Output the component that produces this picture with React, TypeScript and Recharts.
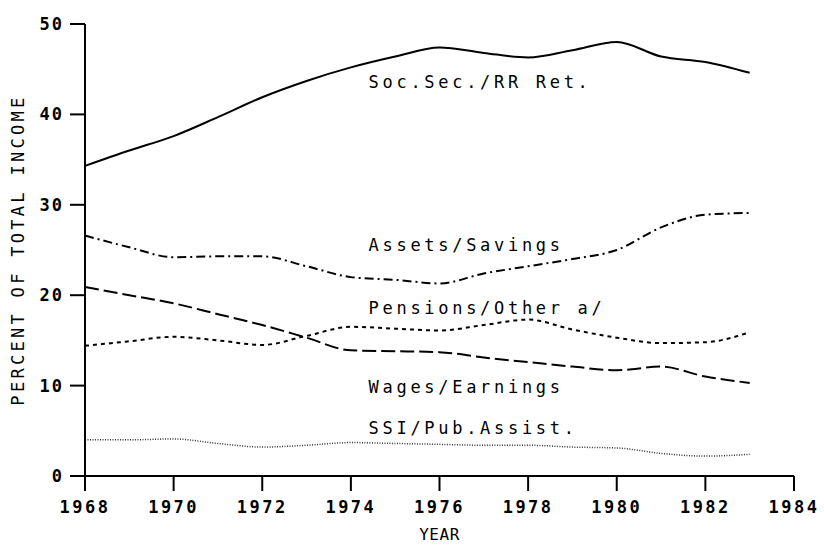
import { LineChart, Line, XAxis, YAxis, ReferenceDot } from 'recharts'

const years = [1968, 1969, 1970, 1971, 1972, 1973, 1974, 1975, 1976, 1977, 1978, 1979, 1980, 1981, 1982, 1983]
const socSec = [34.3, 36.0, 37.6, 39.7, 41.9, 43.7, 45.2, 46.4, 47.4, 46.8, 46.3, 47.1, 48.0, 46.4, 45.8, 44.6]
const assets = [26.6, 25.3, 24.2, 24.3, 24.3, 23.2, 22.0, 21.7, 21.3, 22.4, 23.2, 24.0, 25.0, 27.5, 28.9, 29.1]
const pensions = [14.4, 14.9, 15.4, 15.0, 14.5, 15.5, 16.5, 16.3, 16.1, 16.7, 17.3, 16.2, 15.3, 14.7, 14.8, 15.9]
const wages = [20.9, 20.0, 19.1, 17.9, 16.7, 15.3, 13.9, 13.8, 13.7, 13.1, 12.6, 12.1, 11.7, 12.1, 11.0, 10.3]
const ssi = [4.0, 4.0, 4.1, 3.6, 3.2, 3.4, 3.7, 3.6, 3.5, 3.4, 3.4, 3.2, 3.1, 2.5, 2.2, 2.4]

const xTicks = [1968, 1970, 1972, 1974, 1976, 1978, 1980, 1982, 1984]
const yTicks = [0, 10, 20, 30, 40, 50]

const seriesLabels = [
  { text: 'Soc.Sec./RR Ret.', year: 1974.4, value: 43.6 },
  { text: 'Assets/Savings', year: 1974.4, value: 25.5 },
  { text: 'Pensions/Other a/', year: 1974.4, value: 18.6 },
  { text: 'Wages/Earnings', year: 1974.4, value: 9.8 },
  { text: 'SSI/Pub.Assist.', year: 1974.4, value: 5.3 },
]

const data = years.map((year, i) => ({
  year,
  socSec: socSec[i],
  assets: assets[i],
  pensions: pensions[i],
  wages: wages[i],
  ssi: ssi[i],
}))

const font = '"DejaVu Sans Mono", monospace'

function XTick({ x, y, payload }: any) {
  return (
    <text x={x} y={y + 20} textAnchor="middle" fontFamily={font} fontSize={17} fontWeight="bold" letterSpacing={2.5} fill="#000">
      {payload.value}
    </text>
  )
}

function YTick({ x, y, payload }: any) {
  return (
    <text x={x - 4} y={y} dominantBaseline="central" textAnchor="end" fontFamily={font} fontSize={17} fontWeight="bold" letterSpacing={2} fill="#000">
      {payload.value}
    </text>
  )
}

export default function App() {
  return (
    <div style={{ position: 'fixed', left: 0, top: 0, width: 824, height: 545, background: '#fff' }}>
      <LineChart width={824} height={545} data={data} margin={{ top: 24, right: 30, bottom: 0, left: 0 }}>
        <XAxis
          dataKey="year"
          type="number"
          domain={[1968, 1984]}
          ticks={xTicks}
          height={69}
          tickSize={15}
          axisLine={{ stroke: '#000', strokeWidth: 2 }}
          tickLine={{ stroke: '#000', strokeWidth: 2 }}
          tick={<XTick />}
          label={{ value: 'YEAR', position: 'insideBottom', offset: 5, fontFamily: font, fontSize: 16, fill: '#000', letterSpacing: 0.5 }}
        />
        <YAxis
          type="number"
          domain={[0, 50]}
          ticks={yTicks}
          width={85}
          tickSize={15}
          axisLine={{ stroke: '#000', strokeWidth: 2 }}
          tickLine={{ stroke: '#000', strokeWidth: 2 }}
          tick={<YTick />}
          label={{ value: 'PERCENT OF TOTAL INCOME', angle: -90, position: 'insideLeft', offset: 18, fontFamily: font, fontSize: 17, fill: '#000', letterSpacing: 3.3, style: { textAnchor: 'middle' } }}
        />
        <Line dataKey="socSec" type="monotone" stroke="#000" strokeWidth={2} dot={false} isAnimationActive={false} />
        <Line dataKey="assets" type="monotone" stroke="#000" strokeWidth={2} strokeDasharray="9 4 2 4" dot={false} isAnimationActive={false} />
        <Line dataKey="pensions" type="monotone" stroke="#000" strokeWidth={2} strokeDasharray="4 4" dot={false} isAnimationActive={false} />
        <Line dataKey="wages" type="monotone" stroke="#000" strokeWidth={2} strokeDasharray="14 5" dot={false} isAnimationActive={false} />
        <Line dataKey="ssi" type="monotone" stroke="#333" strokeWidth={1.5} strokeDasharray="1 1.5" dot={false} isAnimationActive={false} />
        {seriesLabels.map((l) => (
          <ReferenceDot
            key={l.text}
            x={l.year}
            y={l.value}
            r={0}
            fill="none"
            stroke="none"
            label={({ viewBox }: any) => (
              <text x={viewBox.x} y={viewBox.y} dominantBaseline="central" fontFamily={font} fontSize={17} letterSpacing={3.7} fill="#000">
                {l.text}
              </text>
            )}
          />
        ))}
      </LineChart>
    </div>
  )
}
